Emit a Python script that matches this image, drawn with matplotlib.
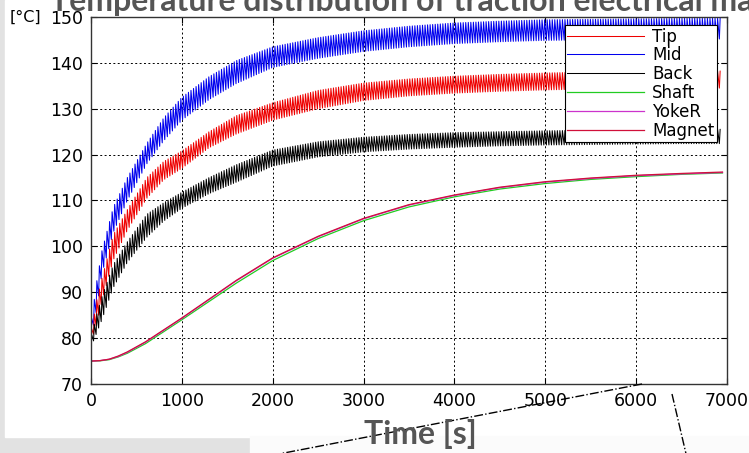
import numpy as np
import matplotlib
matplotlib.use("Agg")
import matplotlib.pyplot as plt
from matplotlib.lines import Line2D
from matplotlib.patches import Rectangle

# ---- temperatures of the pulsating parts: lower / upper edge of each band ----
t_band = [0, 60, 120, 245, 400, 615, 800, 1000, 1300, 1600, 2000, 2500,
          3000, 3500, 4000, 4500, 5000, 5500, 6000, 6500, 6950]
mid_low = [80, 86, 94, 103, 110, 118, 123, 127.5, 132, 135.5, 139, 141,
           142.5, 143.5, 144.2, 144.6, 144.9, 145, 145.1, 145.2, 145.2]
mid_high = [83, 92, 99, 108.5, 115, 122.5, 128, 132.5, 137, 140.5, 143.5, 145.5,
            147, 148, 148.7, 149.1, 149.4, 149.5, 149.6, 149.7, 149.7]
tip_low = [79, 83, 88, 97, 103.5, 110.5, 114.5, 117, 121.5, 124.5, 127.5, 130,
           131.8, 132.8, 133.4, 133.8, 134.1, 134.3, 134.4, 134.5, 134.5]
tip_high = [81, 88, 93, 102.5, 108, 115, 118.5, 120.8, 125, 128.5, 131.3, 134,
            135.6, 136.5, 137.1, 137.5, 137.8, 138, 138.1, 138.2, 138.2]
back_low = [78, 81, 84, 91, 96.5, 102, 105.5, 108.3, 111.5, 114, 117.5, 119.5,
            120.6, 121.2, 121.6, 121.9, 122.1, 122.2, 122.3, 122.4, 122.4]
back_high = [80, 85, 89, 96, 101, 107, 109.5, 111.8, 115, 117.8, 121, 122.8,
             123.8, 124.4, 124.8, 125, 125.2, 125.3, 125.4, 125.5, 125.5]

# ---- temperatures of the slowly heating parts ----
t_smooth = [0, 100, 200, 300, 400, 600, 800, 1000, 1300, 1600, 2000, 2500,
            3000, 3500, 4000, 4500, 5000, 5500, 6000, 6500, 6950]
shaft = [75, 75.05, 75.3, 75.9, 76.7, 78.8, 81.4, 84.0, 88.0, 92.0, 96.9, 101.7,
         105.6, 108.6, 110.8, 112.5, 113.7, 114.6, 115.2, 115.7, 116.0]
yoke_r = [75, 75.1, 75.4, 76.0, 76.9, 79.1, 81.7, 84.3, 88.4, 92.5, 97.4, 102.1,
          106.0, 109.0, 111.1, 112.8, 114.0, 114.8, 115.4, 115.8, 116.1]
magnet = [75, 75.1, 75.4, 76.1, 77.0, 79.2, 81.8, 84.4, 88.5, 92.6, 97.5, 102.2,
          106.1, 109.1, 111.2, 112.9, 114.1, 114.9, 115.5, 115.9, 116.2]

x_ticks = [0, 1000, 2000, 3000, 4000, 5000, 6000, 7000]
y_ticks = [70, 80, 90, 100, 110, 120, 130, 140, 150]
labels = ["Tip", "Mid", "Back", "Shaft", "YokeR", "Magnet"]

PULSE_PERIOD = 28.0  # s, switching ripple of the winding temperatures


def ripple_trace(t_read, low, high, period):
    """Saw-tooth between the lower and upper edge of a pulsating band."""
    n = int(t_read[-1] // period)
    starts = np.arange(n) * period
    t = np.empty(2 * n)
    t[0::2] = starts                    # trough
    t[1::2] = starts + 0.3 * period     # fast heating up to the peak
    lo = np.interp(t, t_read, low)
    hi = np.interp(t, t_read, high)
    y = np.where(np.arange(t.size) % 2 == 0, lo, hi)
    return t, y


W, H = 749, 453
fig = plt.figure(figsize=(W / 100, H / 100), dpi=100)
fig.patch.set_facecolor("#e2e2e2")
# white slide area
fig.patches.append(Rectangle((5 / W, 1 - 437 / H), 1, 437 / H,
                             transform=fig.transFigure, color="white", zorder=-5))
fig.patches.append(Rectangle((250 / W, 0), 1, 17 / H,
                             transform=fig.transFigure, color="#fbfbfb", zorder=-5))

ax = fig.add_axes([91 / W, 1 - 384 / H, (727 - 91) / W, (384 - 17) / H])
ax.set_zorder(2)
ax.set_facecolor("white")

colors = {"Tip": "#ee0000", "Mid": "#0000ee", "Back": "#000000",
          "Shaft": "#22cc22", "YokeR": "#cc33cc", "Magnet": "#d0103a"}

handles = {}
for name, lo, hi in [("Mid", mid_low, mid_high), ("Tip", tip_low, tip_high),
                     ("Back", back_low, back_high)]:
    t, y = ripple_trace(t_band, lo, hi, PULSE_PERIOD)
    handles[name], = ax.plot(t, y, color=colors[name], lw=0.75)

for name, vals in [("Shaft", shaft), ("YokeR", yoke_r), ("Magnet", magnet)]:
    handles[name], = ax.plot(t_smooth, vals, color=colors[name], lw=0.9)

ax.set_xlim(0, 7000)
ax.set_ylim(70, 150)
ax.set_xticks(x_ticks)
ax.set_yticks(y_ticks)
ax.grid(True, color="black", linestyle=(0, (2, 2.5)), linewidth=0.7)
ax.tick_params(direction="in", length=4, top=True, right=True,
               labelsize=12.5, pad=6, colors="black")
for sp in ax.spines.values():
    sp.set_color("#333333")
    sp.set_linewidth(1.0)

leg = ax.legend([handles[n] for n in labels], labels,
                loc="upper right",
                bbox_to_anchor=((717 - 91) / 636, (384 - 25) / 367),
                borderaxespad=0, fontsize=12, labelspacing=0.05,
                borderpad=0.15, handlelength=4.6, handletextpad=0.5,
                fancybox=False, framealpha=1, edgecolor="black")
leg.get_frame().set_linewidth(0.8)

fig.text(10 / W, 1 - 17 / H, "[°C]", ha="left", va="center", fontsize=11.5,
         zorder=6)

fig.text(50 / W, 1 - 11 / H,
         "Temperature distribution of traction electrical machine",
         ha="left", va="baseline", fontsize=23, fontweight="bold",
         family="Lato", color="#555555", zorder=1)
fig.text(420 / W, 1 - 434 / H, "Time [s]", ha="center", va="center",
         fontsize=23, fontweight="bold", family="Lato", color="#555555",
         zorder=5)

# dash-dot zoom guides
for (x0, y0), (x1, y1) in [((642, 384), (258, 458)), ((672, 394), (687, 458))]:
    fig.lines.append(Line2D([x0 / W, x1 / W], [1 - y0 / H, 1 - y1 / H],
                            transform=fig.transFigure, color="black",
                            lw=1.0, linestyle="-.", zorder=4))

fig.savefig("out.png", dpi=100, facecolor=fig.get_facecolor())
